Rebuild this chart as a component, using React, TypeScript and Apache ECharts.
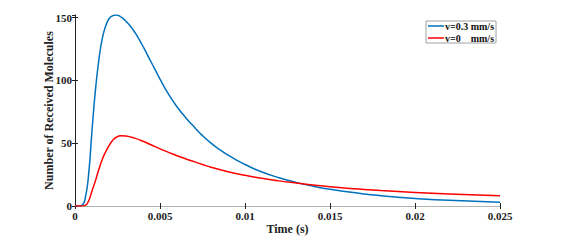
import React, { useEffect, useRef } from "react";
import * as echarts from "echarts";

const blueTimes = [0, 0.0002, 0.0004, 0.0006, 0.0008, 0.001, 0.0012, 0.0014, 0.0016, 0.0018, 0.002, 0.0022, 0.0024, 0.0026, 0.0028, 0.003, 0.0032, 0.0034, 0.0036, 0.004, 0.0045, 0.005, 0.0055, 0.006, 0.0065, 0.007, 0.0075, 0.008, 0.0085, 0.009, 0.0095, 0.01, 0.011, 0.012, 0.013, 0.014, 0.015, 0.016, 0.017, 0.018, 0.019, 0.02, 0.022, 0.025];
const blueValues = [0, 0, 0.5, 6, 25, 60, 92, 116, 133, 143, 149, 151.3, 152, 151.3, 149.5, 147, 144, 140.5, 136.5, 127, 114, 101, 89, 79, 70.5, 63, 56, 50, 45, 40.5, 36.5, 33, 27, 22.5, 18.8, 15.8, 13.3, 11.3, 9.6, 8.2, 7, 6, 4.5, 2.9];

const redTimes = [0, 0.0004, 0.0006, 0.0008, 0.001, 0.0012, 0.0014, 0.0016, 0.0018, 0.002, 0.0022, 0.0024, 0.0027, 0.003, 0.0035, 0.004, 0.0045, 0.005, 0.0055, 0.006, 0.0065, 0.007, 0.0075, 0.008, 0.009, 0.01, 0.011, 0.012, 0.013, 0.014, 0.015, 0.016, 0.017, 0.018, 0.019, 0.02, 0.022, 0.025];
const redValues = [0, 0, 0.5, 4, 12, 20, 29, 37, 43, 48, 52, 54.5, 56, 55.7, 54, 51.5, 48.5, 45.5, 42.7, 40, 37.6, 35.3, 33, 30.8, 27.3, 24.4, 22, 20, 18.3, 16.8, 15.4, 14.2, 13.2, 12.3, 11.5, 10.8, 9.6, 8.2];

const seriesNames = ["v=0.3 mm/s", "v=0    mm/s"];
const xTicks = { min: 0, max: 0.025, interval: 0.005 };
const yTicks = { min: 0, max: 152, interval: 50 };

const FONT = "'Liberation Serif', 'Times New Roman', serif";

export default function App() {
  const ref = useRef<HTMLDivElement>(null);
  useEffect(() => {
    if (!ref.current) return;
    const chart = echarts.init(ref.current, null, { renderer: "svg" });
    const gray = "#b4b4b4";
    const tickStyle = { show: true, inside: true, length: 3, lineStyle: { color: "#222", width: 1 } };
    chart.setOption({
      animation: false,
      backgroundColor: "#fff",
      textStyle: { fontFamily: FONT },
      grid: { left: 75, right: 62, top: 15, bottom: 36, containLabel: false },
      legend: {
        left: 426,
        top: 21,
        orient: "vertical",
        borderColor: "#a0a0a0",
        borderWidth: 1,
        backgroundColor: "#fff",
        padding: [0, 2, 0, 2],
        itemGap: 2,
        itemWidth: 16,
        itemHeight: 1.5,
        icon: "rect",
        textStyle: { fontFamily: FONT, fontWeight: "bold", fontSize: 10, color: "#111", padding: [0, 0, 0, -4], lineHeight: 10 },
        data: seriesNames,
      },
      xAxis: [
        {
          type: "value",
          position: "bottom",
          min: xTicks.min,
          max: xTicks.max,
          interval: xTicks.interval,
          name: "Time (s)",
          nameLocation: "middle",
          nameGap: 17,
          nameMoveOverlap: false,
          nameTextStyle: { fontFamily: FONT, fontWeight: "bold", fontSize: 12, color: "#222" },
          axisLine: { show: true, lineStyle: { color: gray, width: 1 } },
          axisTick: tickStyle,
          axisLabel: { fontFamily: FONT, fontWeight: "bold", fontSize: 11, color: "#222", margin: 4 },
          splitLine: { show: false },
        },
        {
          type: "value",
          position: "top",
          min: xTicks.min,
          max: xTicks.max,
          interval: xTicks.interval,
          axisLine: { show: true, lineStyle: { color: gray, width: 1 } },
          axisTick: tickStyle,
          axisLabel: { show: false },
          splitLine: { show: false },
        },
      ],
      yAxis: [
        {
          type: "value",
          position: "left",
          min: yTicks.min,
          max: yTicks.max,
          interval: yTicks.interval,
          name: "Number of Received Molecules",
          nameLocation: "middle",
          nameGap: 20,
          nameMoveOverlap: false,
          nameTextStyle: { fontFamily: FONT, fontWeight: "bold", fontSize: 12, color: "#222" },
          axisLine: { show: true, lineStyle: { color: gray, width: 1 } },
          axisTick: tickStyle,
          axisLabel: { fontFamily: FONT, fontWeight: "bold", fontSize: 11, color: "#222", margin: 3, showMaxLabel: false },
          splitLine: { show: false },
        },
        {
          type: "value",
          position: "right",
          min: yTicks.min,
          max: yTicks.max,
          interval: yTicks.interval,
          axisLine: { show: true, lineStyle: { color: "#222", width: 1 } },
          axisTick: tickStyle,
          axisLabel: { show: false },
          splitLine: { show: false },
        },
      ],
      series: [
        {
          name: seriesNames[0],
          type: "line",
          xAxisIndex: 0,
          yAxisIndex: 0,
          data: blueTimes.map((t, i) => [t, blueValues[i]]),
          showSymbol: false,
          symbol: "none",
          smooth: 0.5,
          lineStyle: { color: "#0072BD", width: 1.5 },
          itemStyle: { color: "#0072BD" },
        },
        {
          name: seriesNames[1],
          type: "line",
          xAxisIndex: 0,
          yAxisIndex: 0,
          data: redTimes.map((t, i) => [t, redValues[i]]),
          showSymbol: false,
          symbol: "none",
          smooth: 0.5,
          lineStyle: { color: "#FF0000", width: 1.5 },
          itemStyle: { color: "#FF0000" },
        },
      ],
    });
    return () => chart.dispose();
  }, []);
  return <div ref={ref} style={{ position: "fixed", left: 0, top: 0, width: 562, height: 242 }} />;
}
